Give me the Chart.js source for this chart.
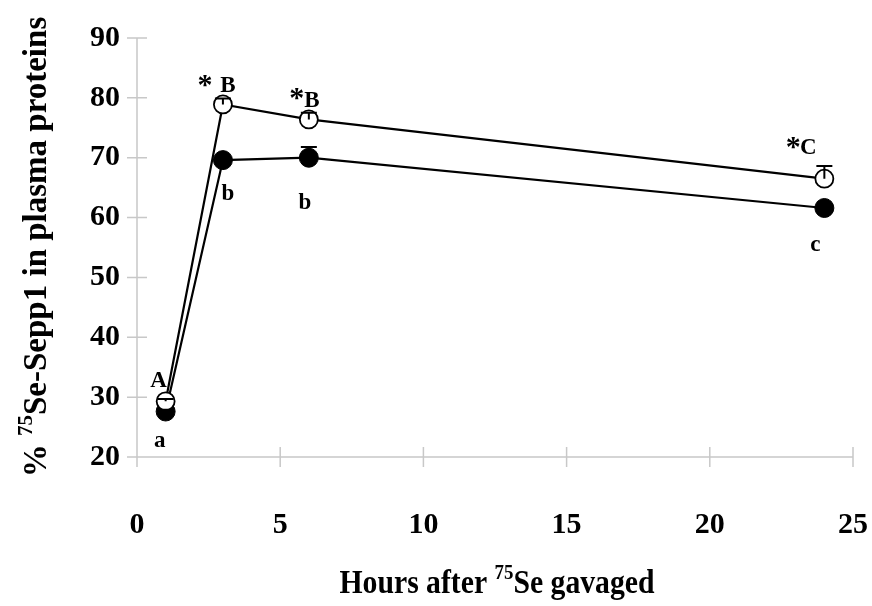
<!DOCTYPE html>
<html>
<head>
<meta charset="utf-8">
<script src="https://cdn.jsdelivr.net/npm/chart.js@4.4.0/dist/chart.umd.min.js"></script>
<style>
  html, body { margin: 0; padding: 0; background: #fff; }
  #wrap { width: 872px; height: 606px; position: relative; }
</style>
</head>
<body>
<div id="wrap"><canvas id="c" width="872" height="606"></canvas></div>
<script>
// ---- data ----
const hours = [1, 3, 6, 24];
const openValues = [29.3, 78.9, 76.4, 66.5];
const openErrors = [0.4, 1.0, 1.1, 2.1];
const filledValues = [27.6, 69.6, 70.0, 61.6];
const filledErrors = [0.3, 0.3, 1.8, 0.3];
const xTicks = [0, 5, 10, 15, 20, 25];
const yTicks = [20, 30, 40, 50, 60, 70, 80, 90];
const openLabels = ['A', 'B', 'B', 'C'];
const openStars = ['', '*', '*', '*'];
const filledLabels = ['a', 'b', 'b', 'c'];

// ---- styles (pixel offsets for letter annotations) ----
const FONT = "'Liberation Serif', 'Times New Roman', serif";
const openLabelOffsets = [[-7, -20], [5, -18], [3, -18], [-16, -31]];
const openStarOffsets = [[0, 0], [-18, -25], [-12, -27], [-31, -37]];
const filledLabelOffsets = [[-6, 30], [5, 34], [-4, 45], [-9, 37]];

const toPts = (xs, ys) => xs.map((x, i) => ({ x: x, y: ys[i] }));

const AXIS_COLOR = '#c8c8c8';

const decorPlugin = {
  id: 'decor',
  beforeDatasetsDraw(chart) {
    const ctx = chart.ctx;
    const xs = chart.scales.x, ys = chart.scales.y;
    const ca = chart.chartArea;
    ctx.save();
    ctx.strokeStyle = AXIS_COLOR;
    ctx.lineWidth = 1.5;
    ctx.beginPath();
    ctx.moveTo(ca.left, ca.top); ctx.lineTo(ca.left, ca.bottom);
    ctx.moveTo(ca.left, ca.bottom); ctx.lineTo(ca.right, ca.bottom);
    xTicks.forEach(v => {
      const px = xs.getPixelForValue(v);
      ctx.moveTo(px, ca.bottom - 10); ctx.lineTo(px, ca.bottom + 10);
    });
    yTicks.forEach(v => {
      const py = ys.getPixelForValue(v);
      ctx.moveTo(ca.left - 10, py); ctx.lineTo(ca.left + 10, py);
    });
    ctx.stroke();
    ctx.restore();
  },
  afterDatasetsDraw(chart) {
    const ctx = chart.ctx;
    const xs = chart.scales.x, ys = chart.scales.y;
    ctx.save();
    ctx.strokeStyle = '#000';
    ctx.lineWidth = 2;
    const drawErr = (vals, errs) => {
      hours.forEach((h, i) => {
        const px = xs.getPixelForValue(h);
        const py = ys.getPixelForValue(vals[i]);
        const pe = ys.getPixelForValue(vals[i] + errs[i]);
        ctx.beginPath();
        ctx.moveTo(px, py); ctx.lineTo(px, pe);
        ctx.moveTo(px - 8, pe); ctx.lineTo(px + 8, pe);
        ctx.stroke();
      });
    };
    drawErr(openValues, openErrors);
    drawErr(filledValues, filledErrors);

    ctx.fillStyle = '#000';
    ctx.textAlign = 'center';
    ctx.textBaseline = 'middle';
    ctx.font = 'bold 23px ' + FONT;
    hours.forEach((h, i) => {
      const px = xs.getPixelForValue(h);
      const po = ys.getPixelForValue(openValues[i]);
      const pf = ys.getPixelForValue(filledValues[i]);
      ctx.fillText(openLabels[i], px + openLabelOffsets[i][0], po + openLabelOffsets[i][1]);
      ctx.fillText(filledLabels[i], px + filledLabelOffsets[i][0], pf + filledLabelOffsets[i][1]);
    });
    ctx.font = 'bold 30px ' + FONT;
    hours.forEach((h, i) => {
      if (!openStars[i]) return;
      const px = xs.getPixelForValue(h);
      const po = ys.getPixelForValue(openValues[i]);
      ctx.fillText(openStars[i], px + openStarOffsets[i][0], po + openStarOffsets[i][1] + 7);
    });
    ctx.restore();
  },
  afterDraw(chart) {
    const ctx = chart.ctx;
    const ca = chart.chartArea;
    ctx.save();
    ctx.fillStyle = '#000';
    ctx.textBaseline = 'alphabetic';
    ctx.textAlign = 'left';
    const drawRuns = (runs, size) => {
      let w = 0;
      runs.forEach(r => {
        ctx.font = 'bold ' + (r.sup ? Math.round(size * 0.65) : size) + 'px ' + FONT;
        r.w = ctx.measureText(r.t).width;
        w += r.w;
      });
      let x = -w / 2;
      runs.forEach(r => {
        ctx.font = 'bold ' + (r.sup ? Math.round(size * 0.65) : size) + 'px ' + FONT;
        ctx.fillText(r.t, x, r.sup ? -size * 0.42 : 0);
        x += r.w;
      });
    };
    // x title
    ctx.save();
    ctx.translate((ca.left + ca.right) / 2 + 2, 593);
    ctx.scale(0.9, 1);
    drawRuns([{ t: 'Hours after ' }, { t: '75', sup: true }, { t: 'Se gavaged' }], 33);
    ctx.restore();
    // y title
    ctx.save();
    ctx.translate(46, 247);
    ctx.rotate(-Math.PI / 2);
    drawRuns([{ t: '% ' }, { t: '75', sup: true }, { t: 'Se-Sepp1 in plasma proteins' }], 33);
    ctx.restore();
    ctx.restore();
  }
};

new Chart(document.getElementById('c'), {
  type: 'scatter',
  data: {
    datasets: [
      {
        label: 'open',
        data: toPts(hours, openValues),
        showLine: true,
        borderColor: '#000',
        borderWidth: 2.2,
        pointRadius: 9,
        pointBackgroundColor: '#fff',
        pointBorderColor: '#000',
        pointBorderWidth: 1.8,
        tension: 0
      },
      {
        label: 'filled',
        data: toPts(hours, filledValues),
        showLine: true,
        borderColor: '#000',
        borderWidth: 2.2,
        pointRadius: 9.5,
        pointBackgroundColor: '#000',
        pointBorderColor: '#000',
        pointBorderWidth: 1,
        tension: 0
      }
    ]
  },
  options: {
    responsive: false,
    animation: false,
    events: [],
    layout: { padding: { left: 0, top: 38, right: 19, bottom: 0 } },
    plugins: { legend: { display: false }, tooltip: { enabled: false } },
    scales: {
      x: {
        type: 'linear', min: 0, max: 25,
        afterBuildTicks: s => { s.ticks = xTicks.map(v => ({ value: v })); },
        afterFit: s => { s.height = 149; s.paddingLeft = 0; s.paddingRight = 0; },
        grid: { display: false, drawTicks: false },
        border: { display: false },
        ticks: { color: '#000', padding: 50, maxRotation: 0, font: { family: FONT, size: 30, weight: 'bold' } }
      },
      y: {
        type: 'linear', min: 20, max: 90,
        afterBuildTicks: s => { s.ticks = yTicks.map(v => ({ value: v })); },
        afterFit: s => { s.width = 137; s.paddingTop = 0; s.paddingBottom = 0; },
        grid: { display: false, drawTicks: false },
        border: { display: false },
        ticks: { color: '#000', padding: 17, font: { family: FONT, size: 30, weight: 'bold' } }
      }
    }
  },
  plugins: [decorPlugin]
});
</script>
</body>
</html>
